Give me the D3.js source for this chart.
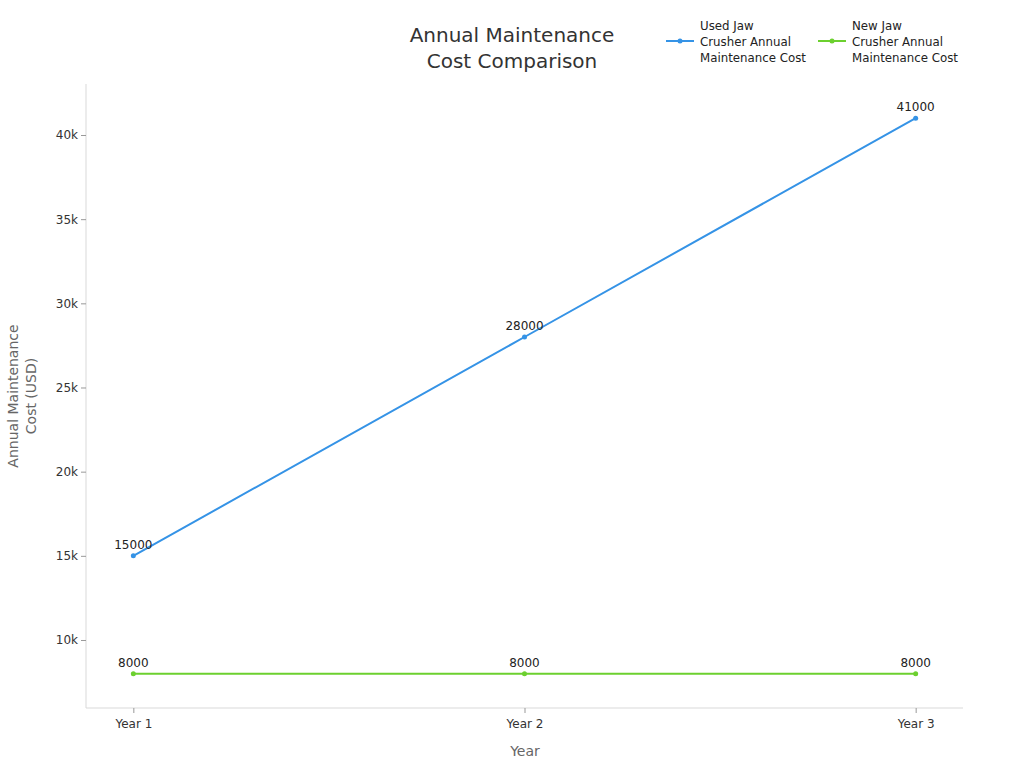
<!DOCTYPE html>
<html><head><meta charset="utf-8">
<script src="https://cdn.jsdelivr.net/npm/d3@7"></script>
<style>body{margin:0;background:#fff;font-family:"DejaVu Sans",sans-serif;}</style>
</head><body>
<svg id="c" width="1024" height="768"></svg>
<script>
const categories = ["Year 1", "Year 2", "Year 3"];
const usedCost = [15000, 28000, 41000];
const newCost = [8000, 8000, 8000];
const yTicks = [10000, 15000, 20000, 25000, 30000, 35000, 40000];
const seriesNames = [["Used Jaw", "Crusher Annual", "Maintenance Cost"], ["New Jaw", "Crusher Annual", "Maintenance Cost"]];
const colors = ["#3593e6", "#6cd02f"];

(function(){
const svg = d3.select("#c");
const pl = 86, pr = 963, pt = 84, pb = 708;
const x = d3.scalePoint().domain(categories).range([pl, pr]).padding(0.121);
const y = d3.scaleLinear().domain([5960, 43030]).range([pb, pt]);

svg.append("line").attr("x1", pl).attr("x2", pl).attr("y1", pt).attr("y2", pb).attr("stroke", "#d9d9d9");
svg.append("line").attr("x1", pl).attr("x2", pr).attr("y1", pb).attr("y2", pb).attr("stroke", "#d9d9d9");

const yAxis = svg.append("g").attr("transform", `translate(${pl},0)`)
  .call(d3.axisLeft(y).tickValues(yTicks).tickSize(5).tickPadding(3).tickFormat(d => (d/1000) + "k"));
yAxis.select(".domain").remove();
yAxis.selectAll("line").attr("stroke", "#999");
yAxis.selectAll("text").attr("fill", "#333").style("font-size", "12px").style("font-family", "DejaVu Sans");

const xAxis = svg.append("g").attr("transform", `translate(0,${pb})`)
  .call(d3.axisBottom(x).tickSize(5).tickPadding(6));
xAxis.select(".domain").remove();
xAxis.selectAll("line").attr("stroke", "#999");
xAxis.selectAll("text").attr("fill", "#333").style("font-size", "12px").style("font-family", "DejaVu Sans");

const t = svg.append("text").attr("text-anchor", "middle").attr("fill", "#333").style("font-size", "20px");
t.append("tspan").attr("x", 512).attr("y", 42).text("Annual Maintenance");
t.append("tspan").attr("x", 512).attr("y", 68).text("Cost Comparison");

svg.append("text").attr("x", 525).attr("y", 756).attr("text-anchor", "middle").attr("fill", "#666").style("font-size", "14px").text("Year");
const yt = svg.append("text").attr("transform", "translate(0,396) rotate(-90)").attr("text-anchor", "middle").attr("fill", "#666").style("font-size", "14px");
yt.append("tspan").attr("x", 0).attr("y", 18).text("Annual Maintenance");
yt.append("tspan").attr("x", 0).attr("y", 36).text("Cost (USD)");

const series = [usedCost, newCost];
series.forEach((vals, i) => {
  const pts = categories.map((c, j) => [x(c), y(vals[j]), vals[j]]);
  svg.append("path").attr("d", d3.line()(pts.map(p => [p[0], p[1]])))
    .attr("fill", "none").attr("stroke", colors[i]).attr("stroke-width", 2);
  svg.selectAll(null).data(pts).enter().append("circle")
    .attr("cx", d => d[0]).attr("cy", d => d[1]).attr("r", 2.5).attr("fill", colors[i]);
  svg.selectAll(null).data(pts).enter().append("text")
    .attr("x", d => d[0]).attr("y", d => d[1] - 7).attr("text-anchor", "middle")
    .attr("fill", "#222").style("font-size", "12px").text(d => d[2]);
});

const legX = [666, 818];
seriesNames.forEach((lines, i) => {
  const g = svg.append("g");
  g.append("line").attr("x1", legX[i]).attr("x2", legX[i] + 28).attr("y1", 41).attr("y2", 41).attr("stroke", colors[i]).attr("stroke-width", 2);
  g.append("circle").attr("cx", legX[i] + 14).attr("cy", 41).attr("r", 2.5).attr("fill", colors[i]);
  const tx = g.append("text").attr("fill", "#222").style("font-size", "11.8px");
  lines.forEach((l, k) => tx.append("tspan").attr("x", legX[i] + 34).attr("y", 30 + k * 16).text(l));
});
})();
</script>
</body></html>
